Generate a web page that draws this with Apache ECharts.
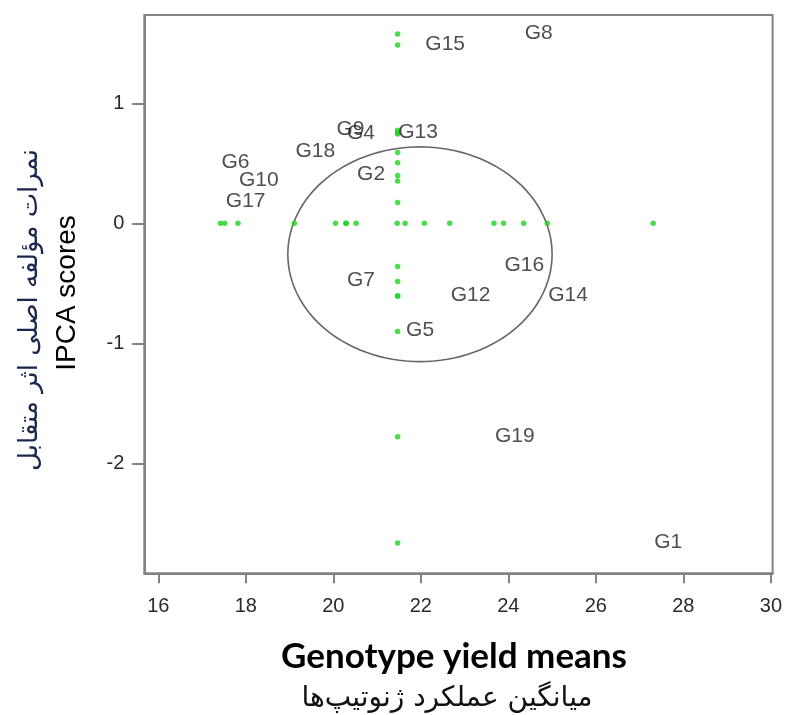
<!DOCTYPE html>
<html>
<head>
<meta charset="utf-8">
<script src="https://cdn.jsdelivr.net/npm/echarts@6/dist/echarts.min.js"></script>
<style>
html,body{margin:0;padding:0;background:#fff;}
#chart{width:785px;height:715px;}
</style>
</head>
<body>
<div id="chart"></div>
<script>
// ---- data ----
var genotypes  = ['G1','G2','G4','G5','G6','G7','G8','G9','G10','G12','G13','G14','G15','G16','G17','G18','G19'];
var yieldMeans = [27.31, 20.52, 20.29, 21.64, 17.42, 20.29, 24.35, 20.05, 17.82, 22.66, 21.46, 24.89, 22.08, 23.89, 17.52, 19.11, 23.67];
var ipcaScores = [-2.664, 0.398, 0.745, -0.902, 0.505, -0.485, 1.578, 0.775, 0.353, -0.606, 0.755, -0.606, 1.486, -0.36, 0.173, 0.59, -1.78];
var grandMean  = 21.47;
var xTicks = [16, 18, 20, 22, 24, 26, 28, 30];
var yTicks = [-2, -1, 0, 1];
var ellipseParams = [21.98, -0.258, 3.02, 0.895]; // centre x, centre y, half-width, half-height (data units)

var xTitle = 'Genotype yield means';
var xTitleFa = 'میانگین عملکرد ژنوتیپ‌ها';
var yTitle = 'IPCA scores';
var yTitleFa = 'نمرات مؤلفه اصلی اثر متقابل';

// ---- build series data ----
var labelData = genotypes.map(function (g, i) { return [yieldMeans[i], ipcaScores[i], g]; });
var xProj = yieldMeans.map(function (v) { return [v, 0]; });
var yProj = ipcaScores.map(function (v) { return [grandMean, v]; });

var chart = echarts.init(document.getElementById('chart'), null, {renderer: 'canvas'});
var axisColor = '#838383';
var tickFont = {fontFamily: 'Liberation Sans, Arial, sans-serif', fontSize: 20, color: '#2a2a2a'};

chart.setOption({
  backgroundColor: '#fff',
  animation: false,
  grid: {left: 144.3, right: 9, top: 15, bottom: 141.7, show: true, borderColor: axisColor, borderWidth: 2, backgroundColor: 'transparent'},
  xAxis: {
    type: 'value', min: 15.68, max: 30.04,
    axisLine: {show: true, onZero: false, lineStyle: {color: axisColor, width: 2}},
    axisTick: {show: true, length: 10, customValues: xTicks, lineStyle: {color: axisColor, width: 2}},
    axisLabel: Object.assign({customValues: xTicks, margin: 23, showMinLabel: true, showMaxLabel: true}, tickFont),
    splitLine: {show: false}
  },
  yAxis: {
    type: 'value', min: -2.917, max: 1.736,
    axisLine: {show: true, onZero: false, lineStyle: {color: axisColor, width: 2}},
    axisTick: {show: true, length: 12, customValues: yTicks, lineStyle: {color: axisColor, width: 2}},
    axisLabel: Object.assign({customValues: yTicks, margin: 20}, tickFont),
    splitLine: {show: false}
  },
  series: [
    {
      type: 'custom',
      data: [ellipseParams],
      silent: true,
      z: 1,
      renderItem: function (params, api) {
        var cx = api.value(0), cy = api.value(1), rx = api.value(2), ry = api.value(3);
        var pts = [];
        for (var k = 0; k < 120; k++) {
          var t = 2 * Math.PI * k / 120;
          pts.push(api.coord([cx + rx * Math.cos(t), cy + ry * Math.sin(t)]));
        }
        return {type: 'polygon', shape: {points: pts}, style: {fill: 'none', stroke: '#666', lineWidth: 1.6}};
      }
    },
    {
      type: 'scatter', data: xProj, symbol: 'circle', symbolSize: 5.5,
      itemStyle: {color: '#1ed21e'}, z: 3
    },
    {
      type: 'scatter', data: yProj, symbol: 'circle', symbolSize: 5.5,
      itemStyle: {color: '#1ed21e'}, z: 3
    },
    {
      type: 'scatter', data: labelData, symbolSize: 0, z: 4,
      label: {
        show: true, position: 'right', distance: 1, offset: [0, -1],
        formatter: function (p) { return p.value[2]; },
        fontFamily: 'Liberation Sans, Arial, sans-serif', fontSize: 21, color: '#222'
      }
    }
  ],
  graphic: [
    {type: 'text', x: 454, y: 657, style: {text: xTitle, fontFamily: 'Lato, sans-serif', fontWeight: 'bold', fontSize: 35, fill: '#000', textAlign: 'center', textVerticalAlign: 'middle'}},
    {type: 'text', x: 447, y: 699, style: {text: xTitleFa, fontFamily: 'DejaVu Sans, sans-serif', fontSize: 28, fill: '#111', textAlign: 'center', textVerticalAlign: 'middle'}},
    {type: 'text', x: 67, y: 293, rotation: Math.PI / 2, style: {text: yTitle, fontFamily: 'Liberation Sans, Arial, sans-serif', fontSize: 28, fill: '#000', textAlign: 'center', textVerticalAlign: 'middle'}},
    {type: 'text', x: 30, y: 310, rotation: Math.PI / 2, style: {text: yTitleFa, fontFamily: 'DejaVu Sans, sans-serif', fontSize: 26, fill: '#1c2750', textAlign: 'center', textVerticalAlign: 'middle'}}
  ]
});
</script>
</body>
</html>
